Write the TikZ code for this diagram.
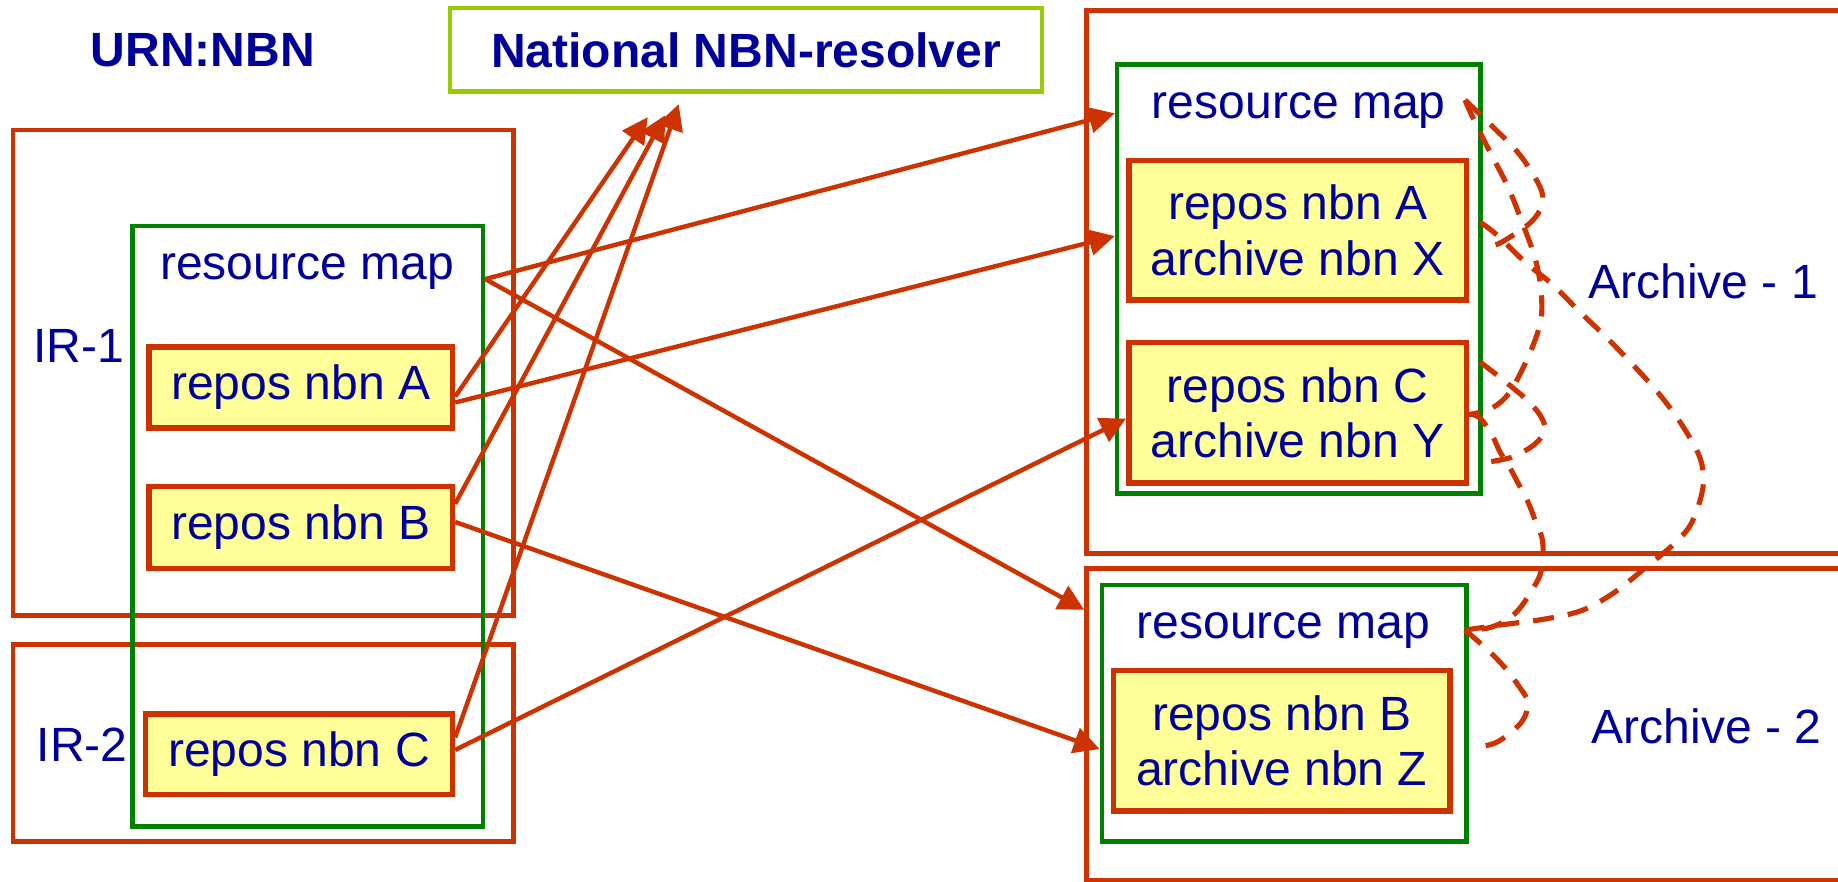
\documentclass[tikz,border=0pt]{standalone}
\usepackage{fontspec}
\setmainfont{Liberation Sans}
\usetikzlibrary{arrows.meta,calc,fit}
\definecolor{rd}{HTML}{CC3300}
\definecolor{nb}{HTML}{000099}
\definecolor{gr}{HTML}{008000}
\definecolor{yl}{HTML}{FFFF99}
\definecolor{lg}{HTML}{99CC00}
\tikzset{
  redbox/.style={draw=rd, line width=2pt, inner sep=0pt},
  grbox/.style={draw=gr, line width=1.9pt, inner sep=0pt},
  ybox/.style={draw=rd, fill=yl, line width=2.3pt, inner sep=0pt},
  lbl/.style={text=nb, inner sep=0pt, align=center},
  arr/.style={draw=rd, line width=1.9pt, -{Triangle[length=11pt,width=11pt]}},
  dsh/.style={draw=rd, line width=2.2pt, dash pattern=on 9pt off 6pt, smooth, tension=0.55}
}
\begin{document}
\begin{tikzpicture}[x=0.5pt, y=-0.5pt, font=\fontsize{20.5}{23.5}\selectfont]
\useasboundingbox (0,0) rectangle (1568,752);
\clip (0,0) rectangle (1568,752);
% titles
\node[lbl, font=\fontsize{20.5}{23.5}\selectfont\bfseries] (urn) at (173,43) {URN:NBN};
\node[draw=lg, line width=1.9pt, inner sep=0pt, fit={(384,7) (889,78)}] (res) {};
\node[lbl, font=\fontsize{20.5}{23.5}\selectfont\bfseries] (rest) at (res.center) {National NBN-resolver};
% left side
\node[redbox, fit={(11,111) (438,525)}] (ir1) {};
\node[redbox, fit={(11,550) (438,718)}] (ir2) {};
\node[grbox, fit={(113,193) (412,705)}] (gl) {};
\node[lbl] (ir1t) at (67,295) {IR-1};
\node[lbl] (ir2t) at (70,635) {IR-2};
\node[lbl] (rml) at (262,232) {resource map};
\node[ybox, fit={(127,296) (386,365)}] (A) {};
\node[ybox, fit={(127,415) (386,485)}] (B) {};
\node[ybox, fit={(124,609) (386,678)}] (C) {};
\node[lbl] (At) at (A.center) {repos nbn A};
\node[lbl] (Bt) at (B.center) {repos nbn B};
\node[lbl] (Ct) at (C.center) {repos nbn C};
% right side
\node[redbox, fit={(927,9) (1620,472)}] (ar1) {};
\node[redbox, fit={(927,485) (1620,751)}] (ar2) {};
\node[grbox, fit={(953,55) (1263,421)}] (g1) {};
\node[grbox, fit={(940,499) (1251,718)}] (g2) {};
\node[lbl] (rm1) at (1108,94) {resource map};
\node[lbl] (rm2) at (1095,538) {resource map};
\node[ybox, fit={(963,137) (1251,256)}] (AX) {};
\node[ybox, fit={(963,292) (1251,412)}] (CY) {};
\node[ybox, fit={(950,572) (1237,692)}] (BZ) {};
\node[lbl] (AXt) at (AX.center) {repos nbn A\\archive nbn X};
\node[lbl] (CYt) at (CY.center) {repos nbn C\\archive nbn Y};
\node[lbl] (BZt) at (BZ.center) {repos nbn B\\archive nbn Z};
\node[lbl] (a1t) at (1453,240) {Archive - 1};
\node[lbl] (a2t) at (1456,620) {Archive - 2};
% solid arrows
\draw[arr] ($(gl.north east)!0.091!(gl.south east)$) -- ($(g1.north west)!0.118!(g1.south west)$);
\draw[arr] ($(gl.north east)!0.091!(gl.south east)$) -- ($(ar2.north west)!0.138!(ar2.south west)$);
\draw[arr] ($(A.north east)!0.675!(A.south east)$) -- ($(g1.north west)!0.401!(g1.south west)$);
\draw[arr] ($(B.north east)!0.437!(B.south east)$) -- ($(g2.north west)!0.637!(g2.south west)$);
\draw[arr] ($(C.north east)!0.449!(C.south east)$) -- ($(CY.north west)!0.541!(CY.south west)$);
\draw[arr] ($(A.north east)!0.606!(A.south east)$) -- ($(res.south west)!0.335!(res.south east)+(0,20)$);
\draw[arr] ($(B.north east)!0.229!(B.south east)$) -- ($(res.south west)!0.364!(res.south east)+(0,18.5)$);
\draw[arr] ($(C.north east)!0.304!(C.south east)$) -- ($(res.south west)!0.387!(res.south east)+(0,9)$);
% dashed curves (full-size pixel coordinates)
\begin{scope}[scale=0.85311]
\draw[dsh] plot coordinates {(1465,100) (1493,127) (1520,155) (1540,187) (1542,205) (1530,223) (1500,243) (1482,248)};
\draw[dsh] plot coordinates {(1465,100) (1473,118) (1490,152) (1508,187) (1522,222) (1535,258) (1541,290) (1541,320) (1532,348) (1523,368) (1513,387) (1503,400) (1488,410) (1467,415)};
\draw[dsh] plot coordinates {(1480,222) (1497,235) (1525,262) (1553,285) (1580,312) (1607,338) (1635,367) (1660,395) (1682,425) (1700,458) (1703,487) (1692,522) (1675,543) (1645,568) (1615,592) (1583,610) (1545,619) (1500,625) (1465,630)};
\draw[dsh] plot coordinates {(1480,362) (1497,375) (1513,388) (1527,400) (1540,415) (1545,430) (1535,444) (1515,456) (1500,460) (1482,463)};
\draw[dsh] plot coordinates {(1470,414) (1480,418) (1492,435) (1500,452) (1510,468) (1518,483) (1528,502) (1535,520) (1542,538) (1543,557) (1540,575) (1532,590) (1520,608) (1507,620) (1488,628) (1465,630)};
\draw[dsh] plot coordinates {(1465,630) (1480,643) (1493,655) (1507,670) (1518,685) (1528,702) (1523,720) (1510,733) (1495,743) (1475,748)};
\end{scope}
\end{tikzpicture}
\end{document}
